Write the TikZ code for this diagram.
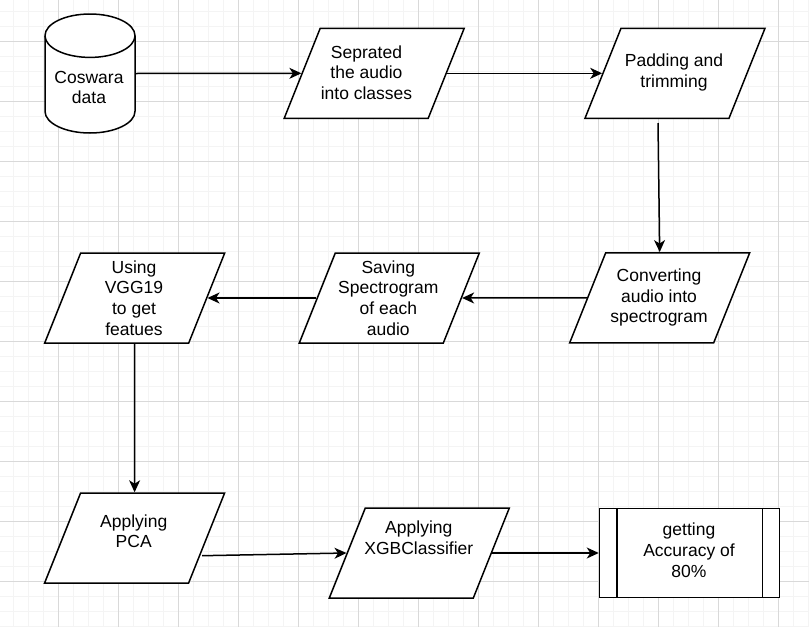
\documentclass[tikz,border=0pt]{standalone}
\usepackage{fontspec}
\setmainfont{Liberation Sans}
\usetikzlibrary{shapes.geometric,arrows.meta,calc}
\definecolor{gridmajor}{HTML}{D9D9D9}
\definecolor{gridminor}{HTML}{F4F4F4}
\tikzset{
  minorline/.style={draw=gridminor, line width=1pt},
  majorline/.style={draw=gridmajor, line width=1pt},
  para/.style={trapezium, trapezium left angle=71.57, trapezium right angle=108.43,
    trapezium stretches=true, minimum width=180pt, minimum height=90pt,
    inner sep=3pt, draw=black, fill=white, line width=1.5pt},
  procbox/.style={rectangle, draw=black, fill=white, line width=1.5pt,
    minimum width=180pt, minimum height=89pt, inner sep=0pt},
  txt/.style={font=\fontsize{17.5}{20.7}\selectfont, align=center, inner sep=0pt, text=black},
  conn/.style={draw=black, line width=1.5pt, -{Stealth[length=12pt, width=11pt, inset=3.5pt]}}
}
\begin{document}
\begin{tikzpicture}[x=1pt,y=-1pt]
\useasboundingbox (0,0) rectangle (809,627);
\fill[white] (0,0) rectangle (809,627);
% grid
\foreach \i in {0,...,53} \draw[minorline] ({13.3+15*\i},0) -- ({13.3+15*\i},627);
\foreach \i in {0,...,41} \draw[minorline] (0,{11.7+15*\i}) -- (809,{11.7+15*\i});
\foreach \i in {0,...,12} \draw[majorline] ({58.3+60*\i},0) -- ({58.3+60*\i},627);
\foreach \i in {0,...,9} \draw[majorline] (0,{41.7+60*\i}) -- (809,{41.7+60*\i});

% cylinder
\node[minimum width=90pt, minimum height=119pt, inner sep=0pt] (cyl) at (90,73.5) {};
\draw[line width=1.5pt, fill=white] (45,35.7) -- (45,111.3)
  arc[start angle=180, end angle=360, x radius=45pt, y radius=21.7pt]
  -- (135,35.7)
  arc[start angle=0, end angle=180, x radius=45pt, y radius=21.7pt] -- cycle;
\draw[line width=1.5pt] (45,35.7)
  arc[start angle=180, end angle=360, x radius=45pt, y radius=21.7pt];
\node[txt] (cyltxt) at (89,87.5) {Coswara\\data};

% shapes
\node[para] (p1) at (374.2,73.3) {};
\node[para] (p2) at (675,73.3) {};
\node[para] (p3) at (659.7,297.8) {};
\node[para] (p4) at (389.3,298) {};
\node[para] (p5) at (134.7,298) {};
\node[para] (p6) at (134.6,538) {};
\node[para] (p7) at (419.3,553) {};
\node[procbox] (proc) at (689.5,553) {};
\draw[line width=1.5pt] ([xshift=18.4pt]proc.north west) -- ([xshift=18.4pt]proc.south west);
\draw[line width=1.5pt] ([xshift=-17.7pt]proc.north east) -- ([xshift=-17.7pt]proc.south east);

% texts
\node[txt] (t1) at (366.5,72.5) {Seprated\\the audio\\into classes};
\node[txt] (t2) at (674,72.5) {Padding and\\trimming};
\node[txt] (t3) at (659,297.5) {Converting\\audio into\\spectrogram};
\node[txt] (t4) at (388.3,297.8) {Saving\\Spectrogram\\of each\\audio};
\node[txt] (t5) at (134,297.8) {Using\\VGG19\\to get\\featues};
\node[txt] (t6) at (133.7,531.2) {Applying\\PCA};
\node[txt] (t7) at (418.8,537.5) {Applying\\XGBClassifier};
\node[txt] (t8) at (689,550.3) {getting\\Accuracy of\\80\%};

% connectors
\coordinate (s3) at (658,123);
\coordinate (s7) at ($(p6.east)+(-5.4,17.7)$);
\draw[conn] (cyl.east) -- (p1.west);
\draw[conn] (p1.east) -- (p2.west);
\draw[conn] (s3) -- (p3.north);
\draw[conn] (p3.west) -- (p4.east);
\draw[conn] (p4.west) -- (p5.east);
\draw[conn] (p5.south) -- (p6.north);
\draw[conn] (s7) -- (p7.west);
\draw[conn] (p7.east) -- (proc.west);
\end{tikzpicture}
\end{document}
